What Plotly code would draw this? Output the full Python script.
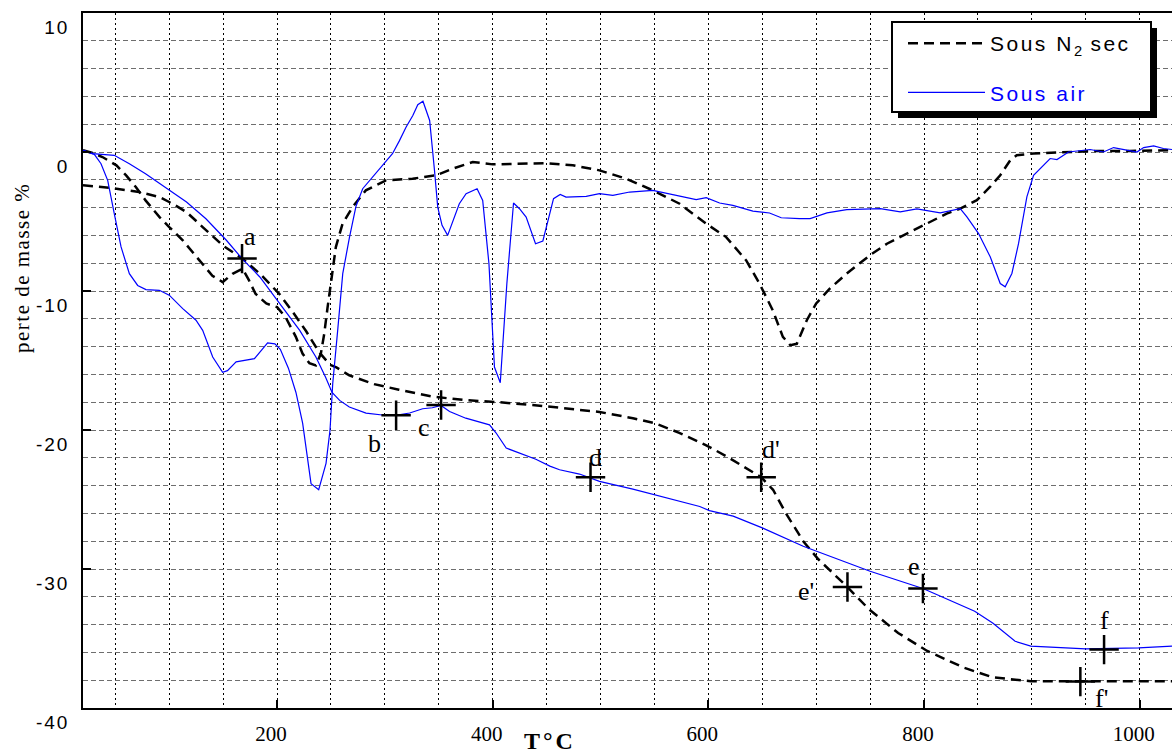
import plotly.graph_objects as go

# ---------------- data ----------------
# TG under dry N2 (dashed)
t_tg_n2 = [20, 44, 72, 91, 103, 116, 131, 150, 167.5, 184, 202, 214.5, 227, 239, 249, 255, 267, 290,
           313, 344, 375, 406, 450, 499, 530, 550, 573, 598, 617, 635, 649, 660, 672, 688, 702, 729,
           749, 776, 803, 837, 864, 899, 950, 1030]
tg_n2 = [-2.4, -2.57, -2.88, -3.24, -3.72, -4.32, -5.4, -6.75, -7.65, -8.75, -10.2, -11.5, -12.9, -14.4,
         -15.3, -15.5, -16.07, -16.7, -17.1, -17.6, -17.85, -18.0, -18.3, -18.7, -19.15, -19.5, -20.2,
         -21.1, -21.9, -22.74, -23.4, -24.3, -26.0, -28.0, -29.3, -31.3, -32.9, -34.6, -35.9, -37.1,
         -37.8, -38.07, -38.07, -38.07]

# derivative-like curve under dry N2 (dashed)
t_dtg_n2 = [20, 29, 38, 51, 60, 69, 78, 91, 100, 112.5, 128, 140, 149.5, 158.7, 168, 174, 180, 190, 200,
            208, 217.4, 223.6, 230, 236, 240.6, 243.7, 246.8, 250, 254.5, 260.7, 270, 282.3, 301, 325.6,
            347.3, 362.7, 381.5, 400, 421.7, 449.6, 474.3, 499, 523.8, 548.5, 573.3, 598, 616.5, 635.1,
            647.5, 659.8, 669.1, 676, 682, 691.3, 700, 713, 728.4, 750, 765.6, 784, 799.6, 821, 833.6,
            849, 861.4, 870.7, 880, 886, 901.6, 929.4, 960, 991, 1030]
dtg_n2 = [0.12, -0.07, -0.36, -0.96, -1.68, -2.52, -3.48, -4.68, -5.4, -6.35, -7.8, -8.9, -9.36, -8.76,
          -8.4, -9.24, -10.2, -10.9, -11.16, -11.9, -13.3, -14.5, -15.2, -15.35, -14.5, -13.1, -11.2,
          -9.24, -6.84, -5.16, -3.96, -2.76, -2.04, -1.92, -1.68, -1.2, -0.72, -0.89, -0.84, -0.8, -0.96,
          -1.32, -1.92, -2.76, -3.72, -5.16, -6.12, -7.8, -9.48, -11.4, -13.3, -13.9, -13.8, -12.1,
          -10.9, -9.8, -8.74, -7.42, -6.6, -5.87, -5.27, -4.43, -4.07, -3.47, -2.5, -1.67, -0.59, -0.23,
          -0.11, 0.0, 0.08, 0.08, 0.13]

# TG under air (blue)
t_tg_air = [20, 29, 49, 63, 78, 100, 116, 134, 153, 167.5, 184, 199, 208, 221, 236, 245, 251, 258, 267,
            282.5, 299.5, 310, 323, 335, 344, 352, 360, 375, 397, 403, 412.5, 431, 440, 453, 462, 480.5,
            499, 530, 550, 561, 592, 601, 623, 650, 688, 750, 799, 847, 864, 884.5, 899, 950, 999, 1030]
tg_air = [0.12, -0.12, -0.24, -0.84, -1.56, -2.76, -3.6, -4.8, -6.35, -7.67, -8.99, -10.55, -11.5,
          -12.83, -14.75, -16.2, -17.3, -17.87, -18.35, -18.78, -18.94, -18.94, -18.78, -18.47, -18.4,
          -18.23, -18.67, -19.15, -19.63, -20.2, -21.3, -21.8, -22.1, -22.6, -22.86, -23.17, -23.7,
          -24.25, -24.64, -24.85, -25.5, -25.8, -26.2, -27.04, -28.36, -30.16, -31.4, -33.04, -33.9,
          -35.2, -35.55, -35.74, -35.67, -35.55]

# derivative-like curve under air (blue)
t_dtg_air = [20, 27.4, 30.5, 36.7, 42.9, 49, 55.3, 63, 70.7, 78.4, 90.8, 100, 112.5, 124.8, 131, 140.3,
             149.5, 154, 162, 179, 185, 191.2, 198, 203, 210.5, 217.5, 223.7, 231.5, 238.6, 245.4,
             249.1, 251.6, 256.2, 260.9, 267, 273.2, 279.4, 288.6, 298.5, 307, 313.4, 319.7, 325.9,
             330.5, 335.3, 341.5, 346, 349, 353, 358.2, 369, 375.3, 385.5, 390.7, 396.5, 401.6, 407,
             413.1, 419.3, 424.8, 431, 439.7, 446.5, 456.4, 462.6, 468, 486.7, 499, 511.4, 527, 548.5,
             570, 588.7, 598, 610.4, 622.7, 641.3, 656.7, 667.6, 684.6, 694.4, 710, 728.4, 759.4, 778,
             793.4, 815, 833.6, 839.8, 850.6, 861.4, 870.7, 875.3, 881.5, 887.7, 895.4, 901.6, 917,
             923.3, 934, 954, 966.5, 975.8, 988, 997.5, 1003.7, 1013, 1022, 1030]
dtg_air = [0.12, -0.12, -0.17, -0.84, -2.04, -4.44, -6.83, -8.75, -9.6, -9.9, -9.95, -10.3, -11.27,
           -12.1, -12.83, -14.75, -15.85, -15.73, -15.1, -14.87, -14.27, -13.73, -13.8, -14.2, -15.55,
           -17.3, -19.5, -23.86, -24.3, -22.4, -20.0, -16.67, -12.83, -8.75, -6.2, -3.9, -2.64, -1.8,
           -0.85, -0.12, 0.8, 1.8, 2.63, 3.4, 3.65, 2.27, -1.32, -3.96, -5.28, -6.0, -3.72, -3.0, -2.64,
           -3.48, -8.04, -15.47, -16.6, -9.48, -3.67, -4.08, -4.68, -6.6, -6.4, -3.36, -3.05, -3.24,
           -3.19, -3.0, -3.12, -2.88, -2.76, -3.12, -3.43, -3.29, -3.67, -3.84, -4.25, -4.39, -4.73,
           -4.8, -4.79, -4.38, -4.14, -4.07, -4.31, -4.09, -4.38, -4.07, -4.67, -5.87, -7.54, -9.46,
           -9.7, -8.74, -6.58, -3.23, -1.67, -0.47, -0.54, 0.0, 0.18, 0.0, 0.32, 0.13, 0.0, 0.32, 0.44,
           0.25, 0.18]

# marked points (+) and their letters
mark_t = [167.5, 310.4, 352.1, 490.7, 649, 729, 799, 967, 945]
mark_v = [-7.67, -18.94, -18.2, -23.4, -23.4, -31.3, -31.4, -35.8, -38.1]
label_text = ["a", "b", "c", "d", "d'", "e'", "e", "f", "f'"]
label_t = [175, 290.3, 336.6, 495.3, 658.3, 690.2, 790.5, 967, 964.2]
label_v = [-6.07, -21.0, -19.8, -21.95, -21.4, -31.6, -29.8, -33.7, -39.3]

x_ticks = [200, 400, 600, 800, 1000]
y_ticks = [10, 0, -10, -20, -30, -40]

# ---------------- figure ----------------
W, H = 1172, 753
ML, MR, MT, MB = 83, 0, 13, 45
PW, PH = W - ML - MR, H - MT - MB


def px_x(px):
    return (px - ML) / PW


def px_y(py):
    return (H - MB - py) / PH


def spaced(txt, sp):
    return '<span style="letter-spacing:%spx">%s</span>' % (sp, txt)


dash_line = dict(color="black", width=2.5, dash="10px,6px")
blue_line = dict(color="#0000ff", width=1.2)

fig = go.Figure()
fig.add_trace(go.Scatter(x=t_tg_n2, y=tg_n2, mode="lines",
                         name=spaced("Sous N", 2.5) + "<sub>2</sub>" + spaced(" sec", 2.5),
                         legendgroup="n2", line=dash_line))
fig.add_trace(go.Scatter(x=t_dtg_n2, y=dtg_n2, mode="lines", name="Sous N2 sec (dérivée)",
                         legendgroup="n2", showlegend=False, line=dash_line))
fig.add_trace(go.Scatter(x=t_tg_air, y=tg_air, mode="lines",
                         name='<span style="color:#0000ff;letter-spacing:2.5px">Sous air</span>',
                         legendgroup="air", line=blue_line))
fig.add_trace(go.Scatter(x=t_dtg_air, y=dtg_air, mode="lines", name="Sous air (dérivée)",
                         legendgroup="air", showlegend=False, line=blue_line))
fig.add_trace(go.Scatter(x=mark_t, y=mark_v, mode="markers", showlegend=False,
                         marker=dict(symbol="cross-thin", size=21, color="black",
                                     line=dict(width=2.5, color="black"))))

annotations = []
for txt, tx, ty in zip(label_text, label_t, label_v):
    annotations.append(dict(x=tx, y=ty, xref="x", yref="y", text=txt, showarrow=False,
                            font=dict(family="Liberation Serif", size=26, color="black")))

annotations.append(dict(x=px_x(550), y=px_y(741), xref="paper", yref="paper",
                        text="<b>" + spaced("T°C", 3) + "</b>",
                        showarrow=False, xanchor="center", yanchor="middle",
                        font=dict(family="Liberation Serif", size=24, color="black")))
annotations.append(dict(x=px_x(22), y=px_y(268), xref="paper", yref="paper",
                        text=spaced("perte de masse %", 1.5), textangle=-90, showarrow=False,
                        xanchor="center", yanchor="middle",
                        font=dict(family="Liberation Serif", size=21, color="black")))

shapes = [
    # legend shadow
    dict(type="rect", xref="paper", yref="paper", x0=px_x(898), x1=px_x(1157), y0=px_y(118),
         y1=px_y(28), fillcolor="black", line=dict(width=0), layer="above"),
    # legend box
    dict(type="rect", xref="paper", yref="paper", x0=px_x(892), x1=px_x(1151), y0=px_y(112),
         y1=px_y(22), fillcolor="white", line=dict(width=2, color="black"), layer="above"),
]

fig.update_layout(
    width=W, height=H,
    margin=dict(l=ML, r=MR, t=MT, b=MB, pad=0),
    paper_bgcolor="white", plot_bgcolor="white",
    showlegend=True,
    legend=dict(x=px_x(903), y=px_y(23), xanchor="left", yanchor="top",
                bgcolor="rgba(0,0,0,0)", borderwidth=0, itemwidth=77,
                tracegroupgap=19, traceorder="grouped",
                font=dict(family="Liberation Sans", size=21, color="black")),
    annotations=annotations,
    shapes=shapes,
)

fig.update_xaxes(
    range=[20, 1030], tickvals=x_ticks, ticktext=[str(v) for v in x_ticks],
    ticks="inside", ticklen=8, tickwidth=1.5, tickcolor="black",
    showline=True, linecolor="black", linewidth=1.5, mirror=True,
    showgrid=True, gridcolor="black", gridwidth=1, griddash="2px,3px",
    minor=dict(tick0=0, dtick=50, showgrid=True, gridcolor="black", gridwidth=1,
               griddash="2px,3px"),
    zeroline=False,
    tickfont=dict(family="Liberation Serif", size=21, color="black"),
    ticklabelshift=-6, ticklabelstandoff=6,
)
fig.update_yaxes(
    range=[-40, 10], tickvals=y_ticks, ticktext=[spaced(str(v), 2) for v in y_ticks],
    ticks="inside", ticklen=8, tickwidth=1.5, tickcolor="black",
    showline=True, linecolor="black", linewidth=1.5, mirror=False,
    showgrid=True, gridcolor="#6e6e6e", gridwidth=1, griddash="5px,3px",
    minor=dict(tick0=0, dtick=2, showgrid=True, gridcolor="#6e6e6e", gridwidth=1,
               griddash="5px,3px"),
    zeroline=False,
    tickfont=dict(family="Liberation Sans", size=19, color="black"),
    ticklabelshift=14, ticklabelstandoff=8,
)

fig.write_html("out.html", config={"displayModeBar": False},
               post_script="document.body.style.margin='0px';")
